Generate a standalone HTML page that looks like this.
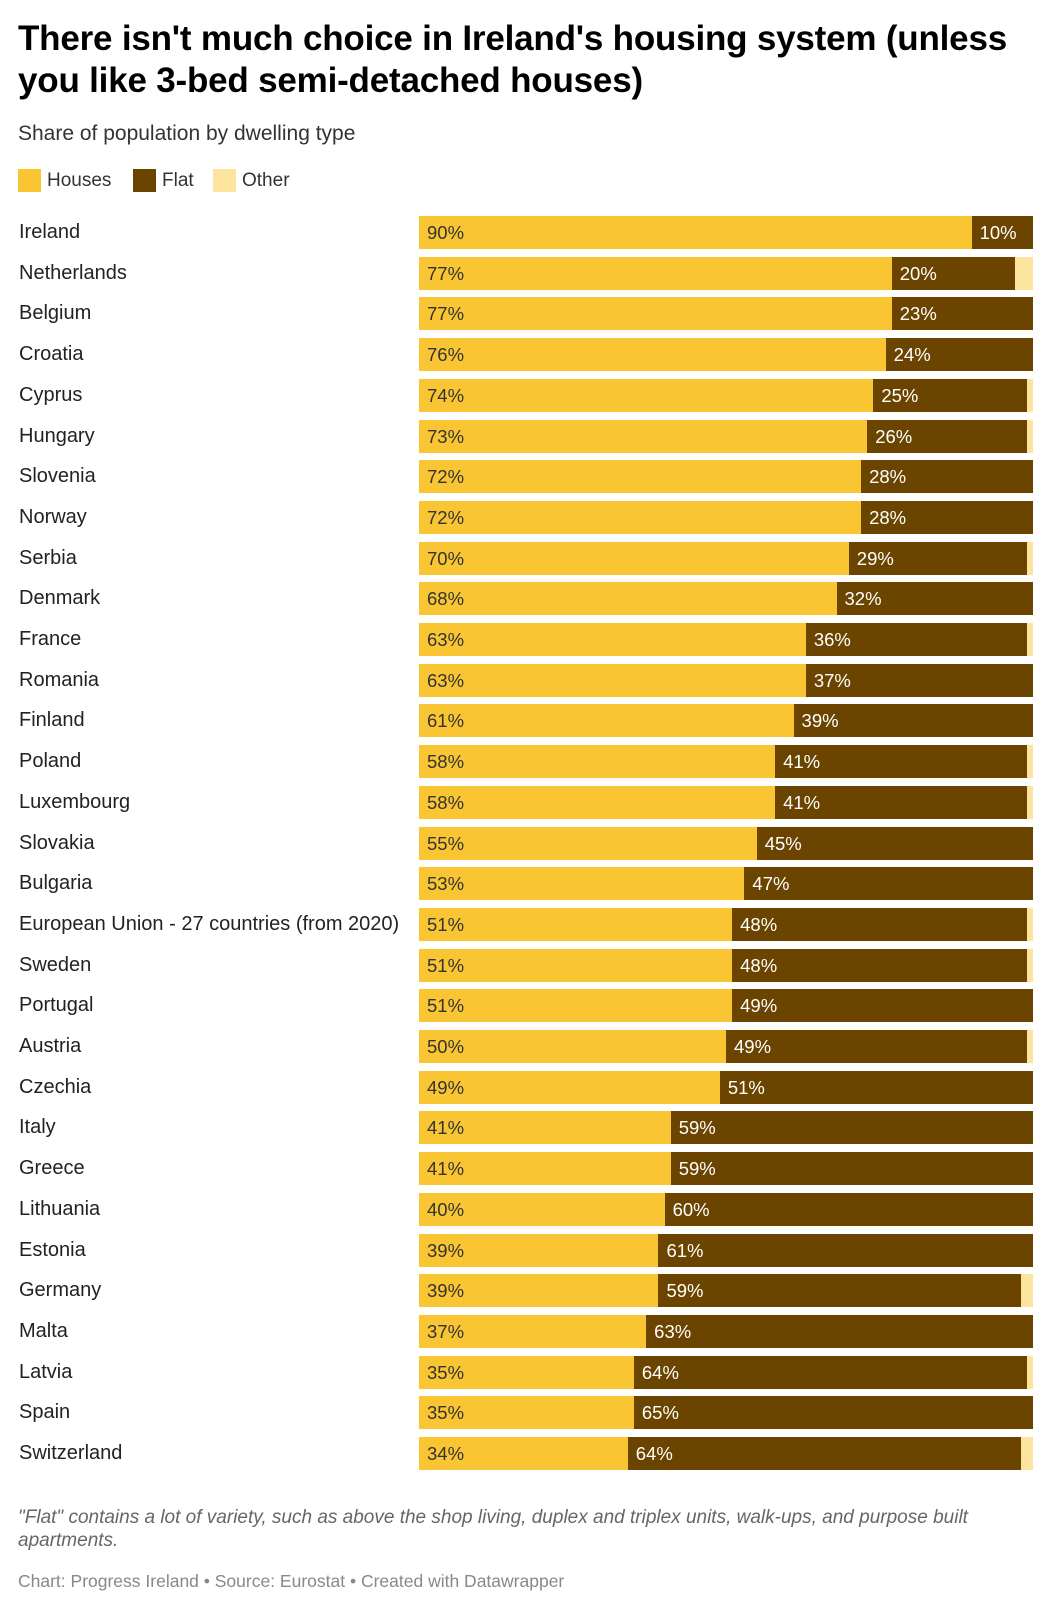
<!DOCTYPE html>
<html><head><meta charset="utf-8"><style>
body{margin:0;width:1052px;height:1600px;background:#fff;font-family:"Liberation Sans",sans-serif;color:#222;position:relative;overflow:hidden}
.t{position:absolute;left:18px;top:18px;font-size:35px;font-weight:bold;line-height:42px;color:#000;letter-spacing:-0.2px}
.sub{position:absolute;left:18px;top:122px;font-size:21px;color:#333}
.leg{position:absolute;top:169px;font-size:19px;color:#333;display:flex;align-items:center}
.sw{width:23px;height:23px;margin-right:6px}
.lbl{position:absolute;left:19px;font-size:20px;color:#222}
.bar{position:absolute;height:33px}
.v{position:absolute;font-size:18.5px;top:6px}
.foot{position:absolute;left:18px;top:1506px;font-size:19px;font-style:italic;color:#666;line-height:23px;width:1000px}
.cr{position:absolute;left:18px;top:1571px;font-size:17.5px;color:#888}
</style></head><body>
<div class="t">There isn't much choice in Ireland's housing system (unless<br>you like 3-bed semi-detached houses)</div>
<div class="sub">Share of population by dwelling type</div>
<div class="leg" style="left:18px"><div class="sw" style="background:#fac532"></div>Houses</div>
<div class="leg" style="left:133px"><div class="sw" style="background:#6b4500"></div>Flat</div>
<div class="leg" style="left:213px"><div class="sw" style="background:#fde49e"></div>Other</div>
<div id="chart"></div>
<div class="foot">"Flat" contains a lot of variety, such as above the shop living, duplex and triplex units, walk-ups, and purpose built apartments.</div>
<div class="cr">Chart: Progress Ireland • Source: Eurostat • Created with Datawrapper</div>
<script>
const countries=["Ireland","Netherlands","Belgium","Croatia","Cyprus","Hungary","Slovenia","Norway","Serbia","Denmark","France","Romania","Finland","Poland","Luxembourg","Slovakia","Bulgaria","European Union - 27 countries (from 2020)","Sweden","Portugal","Austria","Czechia","Italy","Greece","Lithuania","Estonia","Germany","Malta","Latvia","Spain","Switzerland"];
const houses=[90,77,77,76,74,73,72,72,70,68,63,63,61,58,58,55,53,51,51,51,50,49,41,41,40,39,39,37,35,35,34];
const flat=[10,20,23,24,25,26,28,28,29,32,36,37,39,41,41,45,47,48,48,49,49,51,59,59,60,61,59,63,64,65,64];
const other=houses.map((h,i)=>Math.max(0,100-h-flat[i]));
const X0=419,W=614,Y0=216,STEP=40.7;
const x=v=>v/100*W;
const c=document.getElementById('chart');
function add(cls,style,txt){const d=document.createElement('div');d.className=cls;Object.assign(d.style,style);if(txt!==undefined)d.textContent=txt;c.appendChild(d);return d;}
countries.forEach((n,i)=>{
  const y=Y0+i*STEP;
  const l=add('lbl',{top:(y+5)+'px'},n);
  
  
  const hb=add('bar',{left:X0+'px',top:y+'px',width:x(houses[i])+'px',background:'#fac532'});
  
  
  const hv=add('v',{left:'8px',color:'#333'},houses[i]+'%');hb.appendChild(hv);
  const fb=add('bar',{left:(X0+x(houses[i]))+'px',top:y+'px',width:x(flat[i])+'px',background:'#6b4500'});
  
  
  const fv=add('v',{left:'8px',color:'#fff'},flat[i]+'%');fb.appendChild(fv);
  const ob=add('bar',{left:(X0+x(houses[i]+flat[i]))+'px',top:y+'px',width:x(other[i])+'px',background:'#fde49e'});
  
  
});
</script>
</body></html>
